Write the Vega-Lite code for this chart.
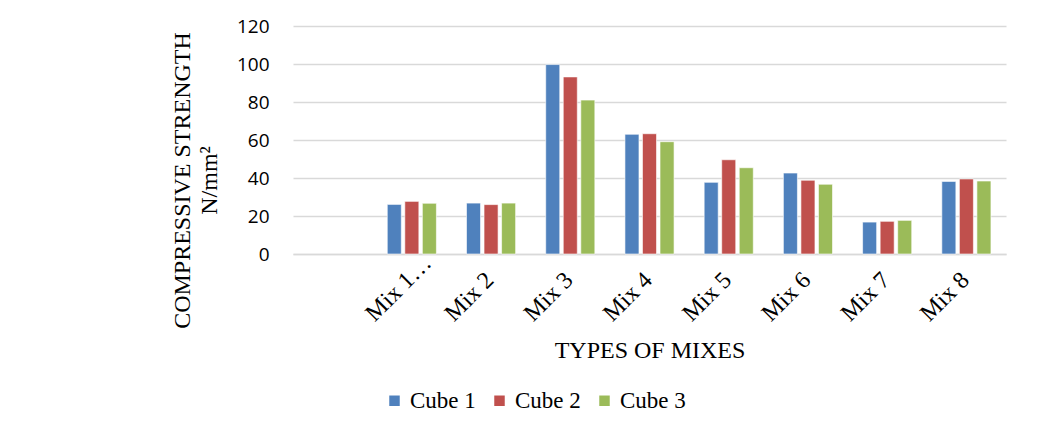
{
  "$schema": "https://vega.github.io/schema/vega-lite/v6.json",
  "autosize": "none",
  "width": 713,
  "height": 228,
  "padding": {"left": 293, "top": 26, "right": 40, "bottom": 178},
  "background": "white",
  "data": {
    "values": [
      {"mix": "Mix 1…", "cube": "Cube 1", "strength": 26.1},
      {"mix": "Mix 1…", "cube": "Cube 2", "strength": 27.7},
      {"mix": "Mix 1…", "cube": "Cube 3", "strength": 26.7},
      {"mix": "Mix 2", "cube": "Cube 1", "strength": 26.8},
      {"mix": "Mix 2", "cube": "Cube 2", "strength": 26.0},
      {"mix": "Mix 2", "cube": "Cube 3", "strength": 26.8},
      {"mix": "Mix 3", "cube": "Cube 1", "strength": 99.7},
      {"mix": "Mix 3", "cube": "Cube 2", "strength": 93.2},
      {"mix": "Mix 3", "cube": "Cube 3", "strength": 81.0},
      {"mix": "Mix 4", "cube": "Cube 1", "strength": 63.0},
      {"mix": "Mix 4", "cube": "Cube 2", "strength": 63.3},
      {"mix": "Mix 4", "cube": "Cube 3", "strength": 59.1},
      {"mix": "Mix 5", "cube": "Cube 1", "strength": 37.7},
      {"mix": "Mix 5", "cube": "Cube 2", "strength": 49.6},
      {"mix": "Mix 5", "cube": "Cube 3", "strength": 45.4},
      {"mix": "Mix 6", "cube": "Cube 1", "strength": 42.6},
      {"mix": "Mix 6", "cube": "Cube 2", "strength": 38.8},
      {"mix": "Mix 6", "cube": "Cube 3", "strength": 36.7},
      {"mix": "Mix 7", "cube": "Cube 1", "strength": 16.8},
      {"mix": "Mix 7", "cube": "Cube 2", "strength": 17.2},
      {"mix": "Mix 7", "cube": "Cube 3", "strength": 17.7},
      {"mix": "Mix 8", "cube": "Cube 1", "strength": 38.2},
      {"mix": "Mix 8", "cube": "Cube 2", "strength": 39.5},
      {"mix": "Mix 8", "cube": "Cube 3", "strength": 38.4}
    ]
  },
  "mark": {"type": "bar", "stroke": "white", "strokeOpacity": 0.6, "strokeWidth": 1},
  "encoding": {
    "x": {
      "field": "mix",
      "type": "nominal",
      "sort": null,
      "scale": {"domain": [" ", "Mix 1…", "Mix 2", "Mix 3", "Mix 4", "Mix 5", "Mix 6", "Mix 7", "Mix 8"], "paddingInner": 0.38, "paddingOuter": 0.19},
      "axis": {
        "title": "TYPES OF MIXES",
        "titleFont": "Liberation Serif",
        "titleFontSize": 24,
        "titleFontWeight": "normal",
        "titleColor": "black",
        "titleY": 84,
        "titleBaseline": "top",
        "labelAngle": -45,
        "labelAlign": "left",
        "labelBaseline": "alphabetic",
        "labelFont": "Liberation Serif",
        "labelFontSize": 24,
        "labelColor": "black",
        "labelPadding": 68,
        "labelOffset": -37,
        "labelOverlap": false,
        "labelBound": false,
        "ticks": false,
        "domainColor": "#d9d9d9",
        "domainWidth": 1.5
      }
    },
    "xOffset": {"field": "cube", "type": "nominal", "scale": {"paddingInner": 0.2}},
    "y": {
      "field": "strength",
      "type": "quantitative",
      "scale": {"domain": [0, 120]},
      "axis": {
        "values": [0, 20, 40, 60, 80, 100, 120],
        "title": ["COMPRESSIVE STRENGTH", "N/mm²"],
        "titleFont": "Liberation Serif",
        "titleFontSize": 24,
        "titleFontWeight": "normal",
        "titleColor": "black",
        "titleLineHeight": 27,
        "titleX": -99,
        "titleY": 154,
        "titleAngle": -90,
        "titleAlign": "center",
        "titleBaseline": "bottom",
        "labelFont": "Open Sans",
        "labelFontSize": 19,
        "labelColor": "black",
        "labelPadding": 24,
        "ticks": false,
        "domain": false,
        "gridColor": "#d9d9d9",
        "gridWidth": 1.5
      }
    },
    "color": {
      "field": "cube",
      "type": "nominal",
      "scale": {"domain": ["Cube 1", "Cube 2", "Cube 3"], "range": ["#4F81BD", "#C0504D", "#9BBB59"]},
      "legend": {
        "title": null,
        "orient": "none",
        "direction": "horizontal",
        "legendX": 90,
        "legendY": 363,
        "symbolType": "square",
        "symbolSize": 110,
        "symbolStrokeWidth": 0,
        "labelFont": "Liberation Serif",
        "labelFontSize": 23,
        "labelColor": "black",
        "labelOffset": 4,
        "columnPadding": 12
      }
    }
  },
  "config": {"view": {"stroke": null}}
}
